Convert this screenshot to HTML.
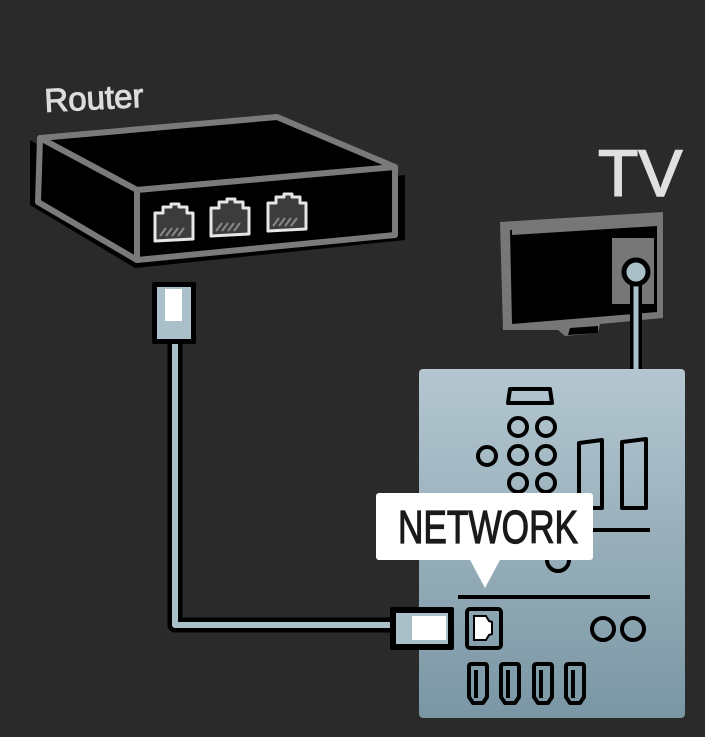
<!DOCTYPE html>
<html><head><meta charset="utf-8"><style>
html,body{margin:0;padding:0;background:#2a2a2a;}
svg{display:block;}
</style></head><body>
<svg width="705" height="737" viewBox="0 0 705 737" xmlns="http://www.w3.org/2000/svg">
<defs>
<linearGradient id="pg" x1="0" y1="0" x2="0" y2="1">
<stop offset="0" stop-color="#b4c7d0"/><stop offset="1" stop-color="#7a96a4"/>
</linearGradient>
</defs>
<rect width="705" height="737" fill="#2a2a2a"/>
<!-- Router -->
<text x="45" y="112" font-family="Liberation Sans, sans-serif" font-size="33" fill="#dcdcdc" stroke="#dcdcdc" stroke-width="1" transform="rotate(-3 45 112)">Router</text>
<polygon points="30,205 135,268 405,240 405,175 135,200 30,140" fill="#000"/>
<polygon points="40,138 277,117 395,167 137,190" fill="#000" stroke="#7a7a7a" stroke-width="6" stroke-linejoin="round"/>
<polygon points="40,138 137,190 137,260 38,202" fill="#000" stroke="#7a7a7a" stroke-width="6" stroke-linejoin="round"/>
<polygon points="137,190 395,167 395,235 137,260" fill="#000" stroke="#7a7a7a" stroke-width="6" stroke-linejoin="round"/>
<g fill="#3c3c3c" stroke="#e6e6e6" stroke-width="3" stroke-linejoin="round">
<path d="M155,213 h8 v-6 h8 v-3 h8 v3 h8 v6 h6 v26 l-38,2 z"/>
<path d="M211,208 h8 v-6 h8 v-3 h8 v3 h8 v6 h6 v26 l-38,2 z"/>
<path d="M268,203 h8 v-6 h8 v-3 h8 v3 h8 v6 h6 v26 l-38,2 z"/>
</g>
<g stroke="#888" stroke-width="2">
<path d="M160,236 l6,-8 M166,236 l6,-8 M172,236 l6,-8 M178,236 l6,-8"/>
<path d="M216,231 l6,-8 M222,231 l6,-8 M228,231 l6,-8 M234,231 l6,-8"/>
<path d="M273,226 l6,-8 M279,226 l6,-8 M285,226 l6,-8 M291,226 l6,-8"/>
</g>
<!-- cable -->
<path d="M175,340 V625 H400" fill="none" stroke="#000" stroke-width="15" stroke-linejoin="round"/>
<path d="M175,340 V625 H400" fill="none" stroke="#a9c0c9" stroke-width="6" stroke-linejoin="round"/>
<rect x="152" y="282" width="44" height="62" fill="#000" rx="2"/>
<rect x="157" y="287" width="34" height="52" fill="#a9c0c9"/>
<rect x="165" y="289" width="17" height="32" fill="#fff"/>
<!-- TV -->
<text x="598" y="196" font-family="Liberation Sans, sans-serif" font-size="66" fill="#e0e0e0" stroke="#e0e0e0" stroke-width="1.5">TV</text>
<polygon points="500,222 663,212 663,318 600,324 598,333 565,336 558,330 503,330" fill="#777"/>
<polygon points="510,230 657,222 657,312 512,324" fill="#000"/>
<polygon points="512,228 657,220 657,226 512,235" fill="#777"/>
<polygon points="570,328 598,326 598,333 568,335" fill="#000"/>
<rect x="612" y="238" width="42" height="66" fill="#777"/>
<line x1="636" y1="272" x2="636" y2="372" stroke="#000" stroke-width="12"/>
<line x1="636" y1="272" x2="636" y2="372" stroke="#a9c0c9" stroke-width="5"/>
<circle cx="636" cy="272" r="12" fill="#a9c0c9" stroke="#000" stroke-width="5"/>
<!-- Panel -->
<rect x="419" y="369" width="266" height="349" rx="4" fill="url(#pg)"/>
<g fill="none" stroke="#000" stroke-width="4">
<path d="M510,389 h40 l2,14 h-44 z" stroke-linejoin="round"/>
<circle cx="518" cy="427" r="9"/><circle cx="546" cy="427" r="9"/>
<circle cx="518" cy="455" r="9"/><circle cx="546" cy="455" r="9"/><circle cx="487" cy="456" r="9"/>
<circle cx="518" cy="483" r="9"/><circle cx="546" cy="483" r="9"/>
<path d="M579,443 l23,-3 v68 h-23 z" stroke-linejoin="round"/>
<path d="M622,442 l24,-3 v69 h-24 z" stroke-linejoin="round"/>
<line x1="580" y1="530" x2="650" y2="530"/>
<circle cx="558" cy="560" r="11"/>
<line x1="458" y1="597" x2="650" y2="597"/>
<rect x="467" y="609" width="34" height="39" rx="3"/>
<circle cx="603" cy="629" r="11"/><circle cx="633" cy="629" r="11"/>
</g>
<path d="M474,616 h12 l3,5 l3,1 v12 l-3,1 l-3,5 h-12 z" fill="#fff" stroke="#000" stroke-width="2"/>
<g fill="none" stroke="#000" stroke-width="4" stroke-linejoin="round">
<path d="M471,664 h14 q2,0 2,3 v30 l-4,6 h-10 l-4,-6 v-30 q0,-3 2,-3 z"/><line x1="476" y1="670" x2="476" y2="698"/>
<path d="M503,664 h14 q2,0 2,3 v30 l-4,6 h-10 l-4,-6 v-30 q0,-3 2,-3 z"/><line x1="508" y1="670" x2="508" y2="698"/>
<path d="M536,664 h14 q2,0 2,3 v30 l-4,6 h-10 l-4,-6 v-30 q0,-3 2,-3 z"/><line x1="541" y1="670" x2="541" y2="698"/>
<path d="M568,664 h14 q2,0 2,3 v30 l-4,6 h-10 l-4,-6 v-30 q0,-3 2,-3 z"/><line x1="573" y1="670" x2="573" y2="698"/>
</g>
<!-- right plug -->
<rect x="390" y="607" width="64" height="43" rx="2" fill="#000"/>
<rect x="396" y="613" width="52" height="31" fill="#a9c0c9"/>
<rect x="412" y="616" width="34" height="24" fill="#fff"/>
<!-- label -->
<rect x="376" y="493" width="217" height="67" rx="3" fill="#fff"/>
<polygon points="469,558 501,558 485,588" fill="#fff"/>
<text x="398" y="543" font-family="Liberation Sans, sans-serif" font-size="46" fill="#1a1a1a" stroke="#1a1a1a" stroke-width="1.2" textLength="180" lengthAdjust="spacingAndGlyphs">NETWORK</text>
</svg>
</body></html>
